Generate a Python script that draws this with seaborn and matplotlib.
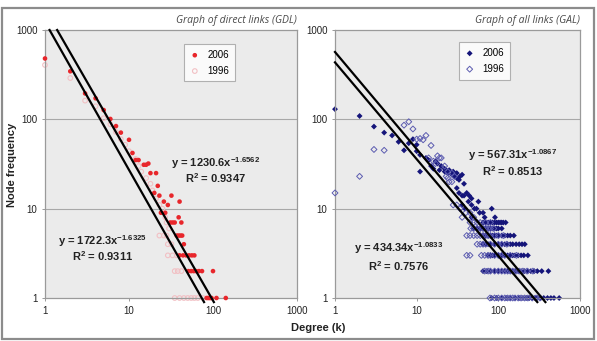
import numpy as np
import pandas as pd
import matplotlib
matplotlib.use("Agg")
import matplotlib.pyplot as plt
import seaborn as sns
from matplotlib.patches import Rectangle

# ---------------- data ----------------
# Graph of direct links (GDL)
gdl_2006_deg = [1, 2, 3, 4, 5, 6, 7, 8, 10, 11, 12, 13, 15, 16, 17, 18, 21, 22, 20, 23,
                32, 26, 40, 29, 24, 27, 39, 31, 33, 35, 42, 37, 39, 41, 43, 45,
                40, 44, 48, 52, 56, 60, 51, 55, 59, 63, 68, 74, 100,
                84, 88, 92, 96, 110, 142]
gdl_2006_freq = [480, 345, 195, 172, 127, 101, 84, 71, 59, 42, 35, 35, 31, 31, 32, 25, 25, 18, 15, 14,
                 14, 12, 12, 11, 9, 9, 8, 7, 7, 7, 7, 5, 5, 5, 5, 4,
                 3, 3, 3, 3, 3, 3, 2, 2, 2, 2, 2, 2, 2,
                 1, 1, 1, 1, 1, 1]
gdl_1996_deg = [1, 2, 3, 4, 5, 6, 7, 8, 9, 10, 12, 13, 14, 16, 18, 19, 21, 23, 25, 27, 28, 30,
                23, 26, 28, 29, 32, 29, 33, 37, 35, 38, 42, 35, 40, 45, 50, 55, 60, 66, 76]
gdl_1996_freq = [406, 290, 162, 140, 103, 88, 72, 60, 52, 44, 36, 30, 26, 22, 19, 16, 13, 11, 10, 8, 7, 6,
                 5, 5, 5, 4, 4, 3, 3, 3, 2, 2, 2, 1, 1, 1, 1, 1, 1, 1, 1]

# Graph of all links (GAL)
gal_2006_deg_upper = [1, 2, 3, 4, 5, 6, 7, 8, 9, 10, 10, 11, 11, 13, 14, 15, 16, 17, 18, 19, 20,
                      22, 22, 24, 25, 27, 28, 29, 31, 31, 33, 34, 36, 38, 31, 33, 36, 38, 41, 44,
                      47, 43, 47, 51, 57, 36, 39, 54, 59, 65, 68, 83, 91, 47]
gal_2006_freq_upper = [130, 109, 83, 71, 66, 56, 45, 54, 60, 52, 44, 40, 26, 37, 35, 30, 28, 34, 32, 27, 30,
                       28, 26, 25, 27, 24, 26, 23, 25, 22, 21, 23, 24, 19, 17, 15, 14, 14, 15, 14,
                       13, 12, 11, 10, 12, 11, 10, 10, 9, 9, 8, 10, 8, 8]
gal_2006_rows = {
    7: [65, 70, 75, 80, 85, 90, 95, 100, 105, 110, 115, 123],
    6: [49, 55, 60, 65, 70, 75, 80, 85, 90, 95, 100, 110],
    5: [65, 70, 75, 80, 85, 90, 95, 100, 110, 120, 130, 140, 155],
    4: [65, 70, 75, 80, 90, 100, 110, 120, 130, 140, 150, 165, 180, 195, 211],
    3: [74, 80, 85, 90, 100, 110, 120, 130, 140, 150, 160, 175, 190, 205, 230],
    2: [65, 72, 80, 90, 100, 110, 120, 130, 140, 150, 160, 175, 190, 210, 230, 250, 275, 300, 340, 410],
    1: [83, 95, 110, 125, 140, 160, 180, 200, 220, 240, 260, 280, 300, 330, 360, 400, 440, 480, 556],
}
gal_1996_deg_upper = [1, 2, 3, 4, 7, 8, 9, 10, 11, 12, 13, 15, 14, 16, 17, 18, 20, 19, 23, 24, 25,
                      22, 24, 27, 29, 27, 28, 31, 34]
gal_1996_freq_upper = [15, 23, 46, 45, 86, 94, 78, 60, 61, 59, 66, 51, 37, 34, 32, 39, 37, 37, 23, 22, 20,
                       30, 26, 25, 23, 20, 11, 11, 10]
gal_1996_rows = {
    9: [40, 45],
    8: [36, 50],
    7: [45, 50, 55, 60, 70, 80],
    6: [46, 50, 55, 60, 65, 70, 75, 80, 88],
    5: [41, 45, 50, 55, 60, 65, 70, 75, 80, 90, 100, 115],
    4: [55, 60, 65, 70, 80, 90, 100, 110, 127],
    3: [41, 45, 62, 68, 75, 80, 90, 100, 110, 120, 140, 167],
    2: [68, 75, 80, 90, 100, 110, 120, 130, 140, 150, 165, 180, 200, 225, 265],
    1: [79, 90, 100, 110, 120, 130, 140, 150, 160, 175, 190, 210, 230, 260, 290, 323],
}

# Power-law trendlines (coefficient, exponent) and R^2
gdl_fit_2006 = (1230.6, -1.6562, 0.9347)
gdl_fit_1996 = (1722.3, -1.6325, 0.9311)
gal_fit_2006 = (567.31, -1.0867, 0.8513)
gal_fit_1996 = (434.34, -1.0833, 0.7576)

tick_vals = [1, 10, 100, 1000]
tick_labels = ["1", "10", "100", "1000"]


def flatten(deg_upper, freq_upper, rows):
    d = list(deg_upper)
    f = list(freq_upper)
    for freq, degs in rows.items():
        d += degs
        f += [freq] * len(degs)
    return pd.DataFrame({"deg": d, "freq": f})


gdl06 = pd.DataFrame({"deg": gdl_2006_deg, "freq": gdl_2006_freq})
gdl96 = pd.DataFrame({"deg": gdl_1996_deg, "freq": gdl_1996_freq})
gal06 = flatten(gal_2006_deg_upper, gal_2006_freq_upper, gal_2006_rows)
gal96 = flatten(gal_1996_deg_upper, gal_1996_freq_upper, gal_1996_rows)

# ---------------- figure ----------------
plt.rcParams["font.family"] = ["Liberation Sans", "DejaVu Sans"]
plt.rcParams["mathtext.default"] = "regular"

W, H = 597, 341
fig = plt.figure(figsize=(W / 100, H / 100), dpi=100)
fig.patch.set_facecolor("white")


def px_rect(x0, y0, x1, y1):
    return [x0 / W, 1 - y1 / H, (x1 - x0) / W, (y1 - y0) / H]


def fx(x):
    return x / W


def fy(y):
    return 1 - y / H


# outer frame
fig.patches.append(Rectangle((fx(2), fy(339)), (592) / W, (331) / H, transform=fig.transFigure,
                             fill=False, edgecolor="#8c8c8c", lw=1.6))

axL = fig.add_axes(px_rect(45, 30, 297, 298))
axR = fig.add_axes(px_rect(335, 30, 580, 298))


def style_axis(ax):
    ax.set_xscale("log")
    ax.set_yscale("log")
    ax.set_xlim(1, 1000)
    ax.set_ylim(1, 1000)
    ax.set_facecolor("#ebebeb")
    for s in ax.spines.values():
        s.set_color("#9a9a9a")
        s.set_linewidth(0.9)
    ax.set_xticks(tick_vals)
    ax.set_xticklabels(tick_labels)
    ax.set_yticks(tick_vals)
    ax.set_yticklabels(tick_labels)
    ax.minorticks_off()
    ax.tick_params(axis="both", labelsize=7, colors="#222222", length=2.5, width=0.7,
                   pad=3)
    ax.tick_params(axis="both", color="#9a9a9a")
    for v in [10, 100]:
        ax.axhline(v, color="#a8a8a8", lw=0.8, zorder=0.5)
    ax.set_xlabel("")
    ax.set_ylabel("")


def trend(ax, fit):
    a, b, _ = fit
    x_start = max(1.0, (1000.0 / a) ** (1 / b))
    x_end = (0.9 / a) ** (1 / b)
    xs = np.logspace(np.log10(x_start), np.log10(x_end), 50)
    line_df = pd.DataFrame({"x": xs, "y": a * xs ** b})
    sns.lineplot(data=line_df, x="x", y="y", ax=ax, color="black", lw=1.6,
                 estimator=None, sort=False, zorder=4)
    ax.lines[-1].set_clip_on(False)


# ---- left panel ----
sns.scatterplot(data=gdl96, x="deg", y="freq", ax=axL, marker="o", s=11,
                color="#f2b8bc", facecolors="none", edgecolor="#f2c0c4", linewidth=0.8,
                label="1996", zorder=2, clip_on=False)
sns.scatterplot(data=gdl06, x="deg", y="freq", ax=axL, marker="o", s=11,
                color="#e8262b", edgecolor="none", linewidth=0,
                label="2006", zorder=3, clip_on=False)
trend(axL, gdl_fit_2006)
trend(axL, gdl_fit_1996)
style_axis(axL)

# ---- right panel ----
sns.scatterplot(data=gal06, x="deg", y="freq", ax=axR, marker="D", s=9,
                color="#15157a", edgecolor="none", linewidth=0,
                label="2006", zorder=2, clip_on=False)
sns.scatterplot(data=gal96, x="deg", y="freq", ax=axR, marker="D", s=9,
                color="#5c5cb0", facecolors="none", edgecolor="#5c5cb0", linewidth=0.7,
                label="1996", zorder=3, clip_on=False)
trend(axR, gal_fit_2006)
trend(axR, gal_fit_1996)
style_axis(axR)


def legend(ax, anchor):
    handles, labels = ax.get_legend_handles_labels()
    order = [labels.index("2006"), labels.index("1996")]
    leg = ax.legend([handles[i] for i in order], [labels[i] for i in order],
                    loc="upper left", bbox_to_anchor=anchor, frameon=True, fancybox=False,
                    fontsize=7, handletextpad=0.8, borderpad=0.6, labelspacing=0.6,
                    handlelength=1.0, borderaxespad=0)
    leg.get_frame().set_edgecolor("#a0a0a0")
    leg.get_frame().set_linewidth(0.8)
    leg.get_frame().set_facecolor("white")


legend(axL, (0.552, 0.948))
legend(axR, (0.506, 0.955))

# ---- titles ----
fig.text(fx(297), fy(20), "Graph of direct links (GDL)", ha="right", va="center",
         fontsize=7.5, style="italic", color="#4a4a4a", family=["Open Sans", "DejaVu Sans"])
fig.text(fx(580), fy(20), "Graph of all links (GAL)", ha="right", va="center",
         fontsize=7.5, style="italic", color="#4a4a4a", family=["Open Sans", "DejaVu Sans"])

# ---- axis labels ----
fig.text(fx(12), fy(165), "Node frequency", rotation=90, ha="center", va="center",
         fontsize=8, fontweight="bold", color="#222222")
fig.text(fx(318), fy(328), "Degree (k)", ha="center", va="center",
         fontsize=8, fontweight="bold", color="#222222")


# ---- equations ----
def eq(xc, y1, y2, fit, xr=None):
    a, b, r2 = fit
    fig.text(fx(xc), fy(y1), f"y = {a:g}x$^{{{b:.4f}}}$", ha="center", va="center",
             fontsize=8, fontweight="bold", color="#222222")
    fig.text(fx(xc if xr is None else xr), fy(y2), f"R$^{{2}}$ = {r2:.4f}", ha="center",
             va="center", fontsize=8, fontweight="bold", color="#222222")


eq(216, 163, 178, gdl_fit_2006)
eq(103, 241, 256, gdl_fit_1996)
eq(513, 155, 171, gal_fit_2006)
eq(399, 248, 266, gal_fit_1996)

fig.savefig("out.png", dpi=100, facecolor="white")
